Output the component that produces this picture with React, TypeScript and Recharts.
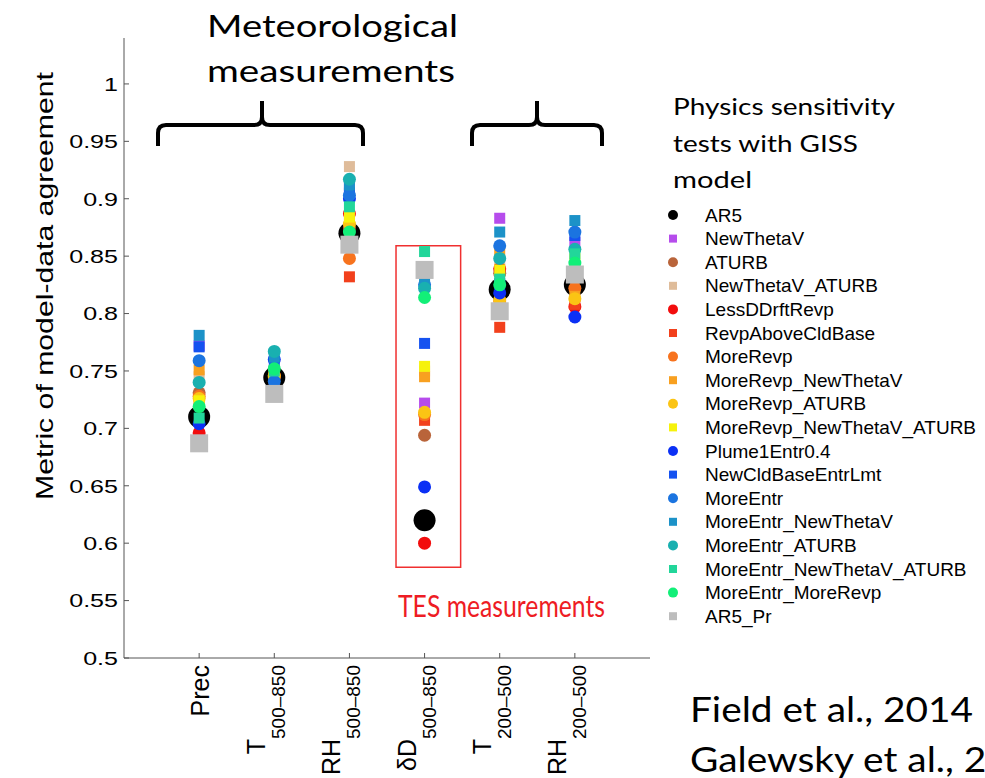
import { ScatterChart, Scatter, XAxis, YAxis, ReferenceArea, Legend } from 'recharts';

const FONT = '"Liberation Sans", Arial, Helvetica, sans-serif';
const CAL = 'Lato, "Open Sans", sans-serif';

// x categories (main part + subscript)
const categories = ['Prec', 'T', 'RH', 'δD', 'T', 'RH'];
const subscripts = ['', '500–850', '500–850', '500–850', '200–500', '200–500'];
const xTicks = [1, 2, 3, 4, 5, 6];
const yTicks = [0.5, 0.55, 0.6, 0.65, 0.7, 0.75, 0.8, 0.85, 0.9, 0.95, 1];

const seriesNames = [
  'AR5',
  'NewThetaV',
  'ATURB',
  'NewThetaV_ATURB',
  'LessDDrftRevp',
  'RevpAboveCldBase',
  'MoreRevp',
  'MoreRevp_NewThetaV',
  'MoreRevp_ATURB',
  'MoreRevp_NewThetaV_ATURB',
  'Plume1Entr0.4',
  'NewCldBaseEntrLmt',
  'MoreEntr',
  'MoreEntr_NewThetaV',
  'MoreEntr_ATURB',
  'MoreEntr_NewThetaV_ATURB',
  'MoreEntr_MoreRevp',
  'AR5_Pr',
];

const seriesColors = [
  '#000000',
  '#b64cec',
  '#b9643a',
  '#dfbc9a',
  '#f20d0d',
  '#f2401c',
  '#f7731e',
  '#f8a020',
  '#fbc414',
  '#f6f20c',
  '#0b30f5',
  '#1552f0',
  '#1b74e0',
  '#1c92c8',
  '#19b0b0',
  '#22d69a',
  '#12ef78',
  '#bdbdbd',
];

// one value per series (same order as seriesNames), per category
const precVals = [0.71, 0.772, 0.731, 0.745, 0.696, 0.722, 0.728, 0.751, 0.726, 0.724, 0.704, 0.771, 0.759, 0.781, 0.74, 0.709, 0.719, 0.687];
const t500Vals = [0.744, 0.75, 0.745, 0.748, 0.746, 0.742, 0.745, 0.747, 0.746, 0.748, 0.76, 0.758, 0.741, 0.762, 0.767, 0.75, 0.752, 0.73];
const rh500Vals = [0.87, 0.91, 0.875, 0.928, 0.887, 0.832, 0.848, 0.88, 0.878, 0.884, 0.9, 0.905, 0.903, 0.912, 0.917, 0.893, 0.871, 0.86];
const dD500Vals = [0.62, 0.722, 0.694, 0.75, 0.6, 0.707, 0.712, 0.745, 0.714, 0.754, 0.649, 0.774, 0.825, 0.828, 0.822, 0.854, 0.814, 0.838];
const t200Vals = [0.821, 0.883, 0.835, 0.845, 0.839, 0.788, 0.811, 0.855, 0.812, 0.838, 0.818, 0.826, 0.859, 0.871, 0.848, 0.83, 0.825, 0.802];
const rh200Vals = [0.825, 0.862, 0.83, 0.84, 0.806, 0.808, 0.822, 0.815, 0.813, 0.848, 0.797, 0.868, 0.871, 0.881, 0.856, 0.852, 0.844, 0.834];

const columns = [precVals, t500Vals, rh500Vals, dD500Vals, t200Vals, rh200Vals];

const seriesData = seriesNames.map((_, s) =>
  columns.map((col, c) => ({ x: xTicks[c], y: col[s] }))
);

function makeMarker(s: number) {
  const color = seriesColors[s];
  const square = s % 2 === 1;
  const big = s === 0 || s === seriesNames.length - 1;
  return (props: any) => {
    const { cx, cy } = props;
    if (square) {
      const h = big ? 9 : 5.5;
      return <rect x={cx - h} y={cy - h} width={2 * h} height={2 * h} fill={color} />;
    }
    return <circle cx={cx} cy={cy} r={big ? 11 : 6.5} fill={color} />;
  };
}

function XTick(props: any) {
  const { x, y, payload } = props;
  const i = xTicks.indexOf(payload.value);
  const sub = subscripts[i];
  return (
    <g transform={`translate(${x},${y}) rotate(-90)`}>
      <text x={0} y={sub ? -9 : 10} textAnchor="end" fontFamily={FONT} fontSize={25} fill="#000">
        {categories[i]}
        {sub && (
          <tspan dy={20} fontSize={19}>
            {sub}
          </tspan>
        )}
      </text>
    </g>
  );
}

function YTick(props: any) {
  const { x, y, payload } = props;
  return (
    <g transform={`translate(${x},${y}) scale(1.32,1)`}>
      <text textAnchor="end" dy="0.36em" fontFamily={FONT} fontSize={19} fill="#000">
        {payload.value}
      </text>
    </g>
  );
}

function LegendBox() {
  return (
    <svg width={330} height={430}>
      {seriesNames.map((name, s) => {
        const cy = 12 + s * 23.6;
        const color = seriesColors[s];
        return (
          <g key={name}>
            {s % 2 === 1 ? (
              <rect x={9} y={cy - 4} width={8} height={8} fill={color} />
            ) : (
              <circle cx={13} cy={cy} r={5} fill={color} />
            )}
            <text x={45} y={cy} dy="0.35em" fontFamily={FONT} fontSize={19} fill="#000">
              {name}
            </text>
          </g>
        );
      })}
    </svg>
  );
}

function Brace({ x1, xm, x2 }: { x1: number; xm: number; x2: number }) {
  const d = `M${x1},146 V133 Q${x1},125 ${x1 + 8},125 H${xm - 8} Q${xm},125 ${xm},117 V101 M${xm},117 Q${xm},125 ${xm + 8},125 H${x2 - 8} Q${x2},125 ${x2},133 V146`;
  return <path d={d} fill="none" stroke="#000" strokeWidth={4} />;
}

function Overlay() {
  return (
    <svg
      width={985}
      height={778}
      style={{ position: 'absolute', left: 0, top: 0, pointerEvents: 'none' }}
    >
      <text x={207} y={37} fontFamily={CAL} fontSize={31} textLength={251} lengthAdjust="spacingAndGlyphs">
        Meteorological
      </text>
      <text x={207} y={82} fontFamily={CAL} fontSize={31} textLength={248} lengthAdjust="spacingAndGlyphs">
        measurements
      </text>
      <Brace x1={158} xm={262} x2={363} />
      <Brace x1={472} xm={537} x2={602} />
      <g transform="translate(53,286) rotate(-90)">
        <text x={0} y={0} textAnchor="middle" fontFamily={FONT} fontSize={24} textLength={428} lengthAdjust="spacingAndGlyphs">
          Metric of model-data agreement
        </text>
      </g>
      <text x={398} y={617} fontFamily={CAL} fontSize={31} fill="#ee1c24" textLength={207} lengthAdjust="spacingAndGlyphs">
        TES measurements
      </text>
      <text x={673} y={115} fontFamily={CAL} fontSize={24} textLength={222} lengthAdjust="spacingAndGlyphs">
        Physics sensitivity
      </text>
      <text x={673} y={152} fontFamily={CAL} fontSize={24} textLength={185} lengthAdjust="spacingAndGlyphs">
        tests with GISS
      </text>
      <text x={673} y={188} fontFamily={CAL} fontSize={24} textLength={79} lengthAdjust="spacingAndGlyphs">
        model
      </text>
      <text x={690} y={722} fontFamily={CAL} fontSize={35} textLength={283} lengthAdjust="spacingAndGlyphs">
        Field et al., 2014
      </text>
      <text x={690} y={772} fontFamily={CAL} fontSize={35} textLength={364} lengthAdjust="spacingAndGlyphs">
        Galewsky et al., 2016
      </text>
    </svg>
  );
}

export default function App() {
  return (
    <div style={{ position: 'absolute', left: 0, top: 0, width: 985, height: 778, background: '#fff', overflow: 'hidden' }}>
      <ScatterChart width={985} height={778} margin={{ top: 38, right: 335, bottom: 0, left: 0 }}>
        <XAxis
          type="number"
          dataKey="x"
          domain={[0, 7]}
          ticks={xTicks}
          height={120}
          tickSize={-5}
          tickMargin={12}
          tick={<XTick />}
          stroke="#555"
          interval={0}
        />
        <YAxis
          type="number"
          dataKey="y"
          domain={[0.5, 1.04]}
          ticks={yTicks}
          width={124}
          tickSize={-5}
          tickMargin={11}
          tick={<YTick />}
          stroke="#555"
          interval={0}
        />
        <ReferenceArea x1={3.62} x2={4.48} y1={0.579} y2={0.859} fill="none" stroke="#f03030" strokeWidth={1.5} />
        {seriesNames.map((name, s) => (
          <Scatter
            key={name}
            name={name}
            data={seriesData[s]}
            fill={seriesColors[s]}
            shape={makeMarker(s)}
            isAnimationActive={false}
          />
        ))}
        <Legend
          layout="vertical"
          align="center"
          verticalAlign="middle"
          wrapperStyle={{ left: 660, top: 203, width: 330 }}
          content={() => <LegendBox />}
        />
      </ScatterChart>
      <Overlay />
    </div>
  );
}
